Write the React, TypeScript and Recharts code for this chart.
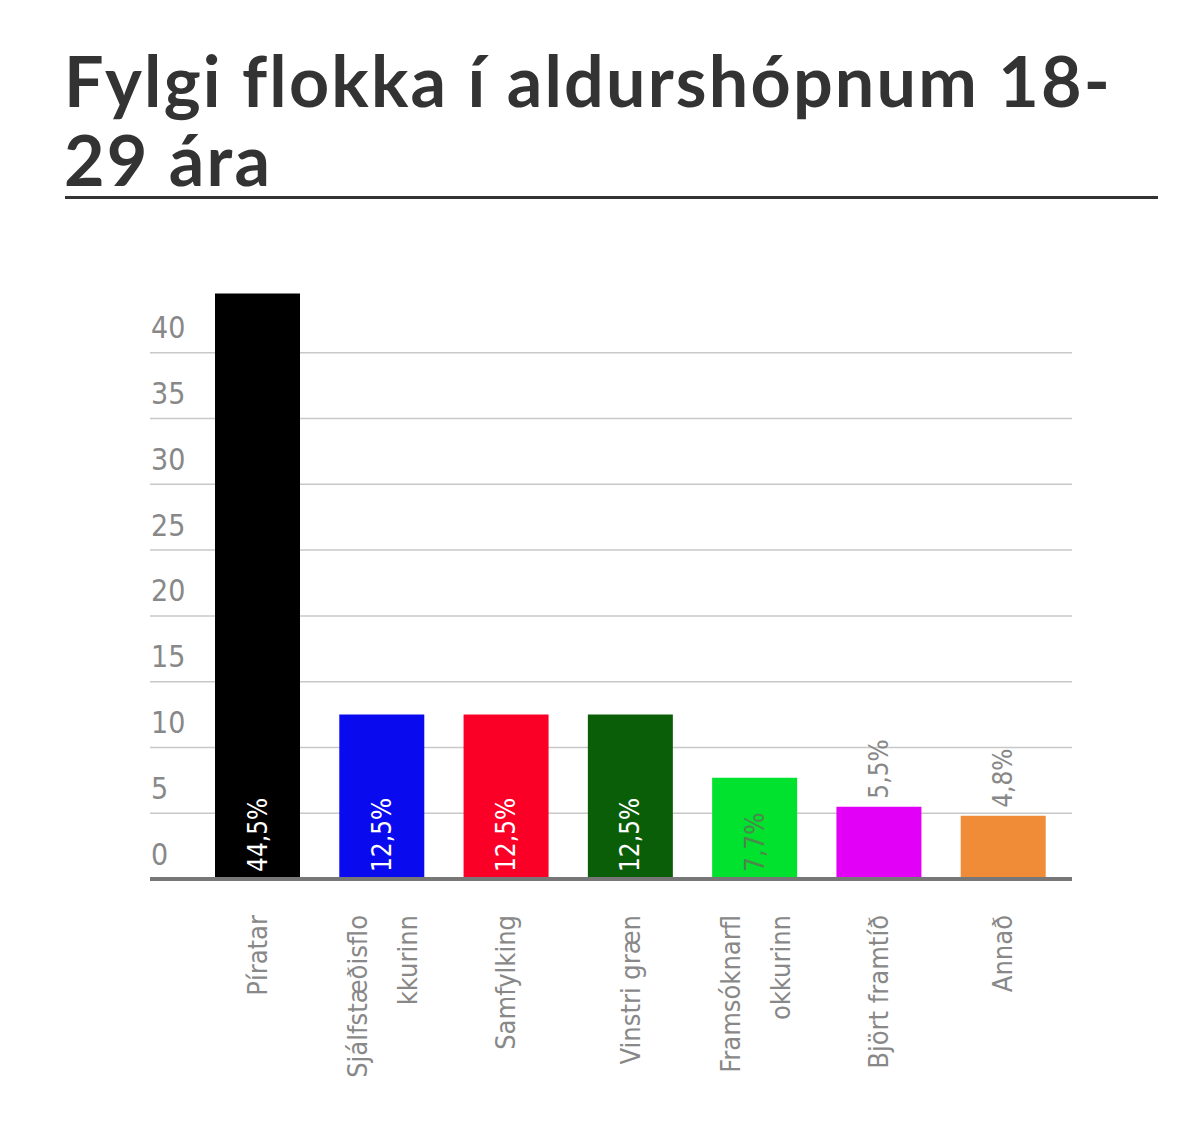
import { BarChart, Bar, XAxis, YAxis, CartesianGrid, Cell, LabelList } from 'recharts'

const PARTIES = ['Píratar', 'Sjálfstæðisflokkurinn', 'Samfylking', 'Vinstri græn', 'Framsóknarflokkurinn', 'Björt framtíð', 'Annað']
const TICK_LINES = [['Píratar'], ['Sjálfstæðisflo', 'kkurinn'], ['Samfylking'], ['Vinstri græn'], ['Framsóknarfl', 'okkurinn'], ['Björt framtíð'], ['Annað']]
const SUPPORT = [44.5, 12.5, 12.5, 12.5, 7.7, 5.5, 4.8]
const Y_TICKS = [0, 5, 10, 15, 20, 25, 30, 35, 40]

const COLORS = ['#000000', '#0a0aee', '#fb0026', '#0b5e08', '#00e22e', '#e200f6', '#f08b38']
const INSIDE_COLORS = ['#ffffff', '#ffffff', '#ffffff', '#ffffff', '#4c874c', '#ffffff', '#ffffff']

const data = PARTIES.map((name, i) => ({ name, value: SUPPORT[i], idx: i }))

const NARROW = "'DejaVu Sans Condensed', 'Liberation Sans Narrow', sans-serif"
const PLOT_LEFT = 150

function fmt(v: number) {
  return v.toFixed(1).replace('.', ',') + '%'
}

function YTick(props: any) {
  const { y, payload } = props
  return (
    <text x={PLOT_LEFT + 1} y={Number(y) - 25} fill="#888" fontSize={30} fontFamily={NARROW} textAnchor="start" dominantBaseline="central">
      {payload.value}
    </text>
  )
}

function XTick({ x, y, payload, index }: any) {
  const lines = TICK_LINES[index] ?? [payload.value]
  const offsets = lines.length === 2 ? [-24, 26] : [0]
  return (
    <g transform={`translate(${x},${y}) rotate(-90)`}>
      {lines.map((l: string, i: number) => (
        <text key={i} x={-30} y={offsets[i]} fill="#888" fontSize={27} fontFamily={NARROW} textAnchor="end" dominantBaseline="central">
          {l}
        </text>
      ))}
    </g>
  )
}

function ValueLabel(props: any) {
  const { x, y, width, height, value, index } = props
  const cx = x + width / 2
  const inside = value >= 7
  const ly = inside ? y + height - 7 : y - 8
  return (
    <text
      x={cx}
      y={ly}
      transform={`rotate(-90, ${cx}, ${ly})`}
      fill={inside ? INSIDE_COLORS[index] : '#888'}
      fontSize={26}
      fontFamily={NARROW}
      textAnchor="start"
      dominantBaseline="central"
    >
      {fmt(value)}
    </text>
  )
}

export default function App() {
  return (
    <div style={{ position: 'absolute', left: 0, top: 0, width: 1200, height: 1135, background: '#fff' }}>
      <div
        style={{
          position: 'absolute',
          left: 64,
          top: 41,
          fontFamily: 'Lato, sans-serif',
          fontWeight: 700,
          fontSize: 70,
          letterSpacing: '2.2px',
          lineHeight: '79px',
          color: '#333',
          whiteSpace: 'nowrap',
        }}
      >
        Fylgi flokka í aldurshópnum 18-
        <br />
        29 ára
      </div>
      <div style={{ position: 'absolute', left: 65, top: 196, width: 1093, height: 3, background: '#333' }} />
      <div style={{ position: 'absolute', left: 0, top: 0 }}>
        <BarChart width={1200} height={1135} data={data} margin={{ top: 287, right: 128, left: PLOT_LEFT - 1, bottom: 56 }}>
          <CartesianGrid vertical={false} stroke="#c8c8c8" strokeWidth={1.5} horizontalValues={Y_TICKS} />
          <XAxis
            dataKey="name"
            interval={0}
            height={200}
            padding={{ left: 45, right: 7 }}
            tickLine={false}
            tickMargin={0}
            axisLine={{ stroke: '#777', strokeWidth: 4 }}
            tick={<XTick />}
          />
          <YAxis
            width={1}
            domain={[0, 45]}
            ticks={Y_TICKS}
            interval={0}
            axisLine={false}
            tickLine={false}
            tick={YTick}
          />
          <Bar dataKey="value" barSize={85} isAnimationActive={false}>
            {data.map((d) => (
              <Cell key={d.name} fill={COLORS[d.idx]} />
            ))}
            <LabelList dataKey="value" content={<ValueLabel />} />
          </Bar>
        </BarChart>
      </div>
    </div>
  )
}
